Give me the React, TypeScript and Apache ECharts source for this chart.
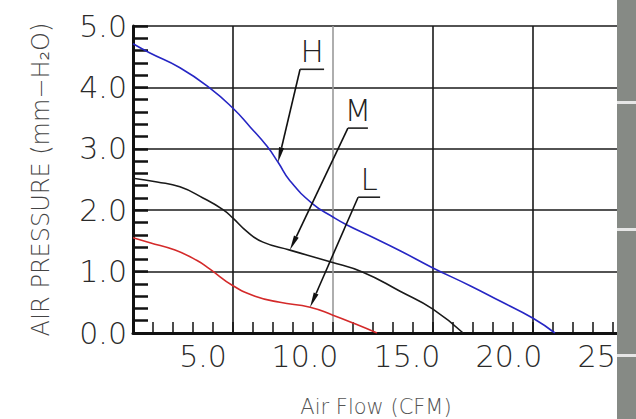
import React, { useEffect, useRef } from "react";
import * as echarts from "echarts";

// Air flow (CFM) / air pressure (mm-H2O) readings of the three fan curves
const H_X = [1.57, 2.4, 3.87, 5.34, 6.47, 7.3, 8.14, 8.68, 9.26, 10.39, 11.37, 12.06, 13.19, 14.66, 16.27, 18.09, 19.56, 21.18, 22.25];
const H_Y = [4.71, 4.56, 4.32, 3.99, 3.66, 3.36, 3.04, 2.78, 2.48, 2.1, 1.89, 1.76, 1.58, 1.34, 1.06, 0.77, 0.52, 0.24, 0];
const M_X = [1.57, 2.75, 3.87, 5.0, 5.98, 6.47, 7.16, 7.94, 9.26, 11.23, 12.84, 14.66, 16.27, 17.75];
const M_Y = [2.52, 2.46, 2.38, 2.2, 2.01, 1.87, 1.65, 1.48, 1.35, 1.16, 0.99, 0.68, 0.39, 0];
const L_X = [1.57, 2.4, 3.63, 4.71, 5.34, 6.47, 7.55, 8.77, 10.25, 11.37, 12.45, 13.53];
const L_Y = [1.55, 1.47, 1.35, 1.18, 1.04, 0.77, 0.6, 0.5, 0.42, 0.29, 0.15, 0];

const X_LABELS = [5, 10, 15, 20, 25];
const SERIES_NAMES = ["H", "M", "L"];

// annotation: which series point the arrow points to, plus leader offsets (layout)
const ANNOTATIONS = [
  { series: 0, index: 7, dx: 22, dy: -93, len: 24 },
  { series: 1, index: 8, dx: 58, dy: -122, len: 20 },
  { series: 2, index: 8, dx: 48, dy: -110, len: 22 },
];

const FONT = "DejaVu Sans";

export default function App() {
  const ref = useRef<HTMLDivElement>(null);
  useEffect(() => {
    const chart = echarts.init(ref.current!, null, { renderer: "svg" });
    const gridLeft = 133;
    const gridTop = 26;
    const gridW = 500;
    const gridH = 307;
    const pxPerCfm = 20.4;
    const xMin = 5 - (203 - gridLeft) / pxPerCfm;
    const xMax = xMin + gridW / pxPerCfm;

    const xs = [H_X, M_X, L_X];
    const ys = [H_Y, M_Y, L_Y];
    const colors = ["#2626c4", "#1a1a1a", "#d42a2a"];

    chart.setOption({
      animation: false,
      backgroundColor: "#ffffff",
      grid: {
        left: gridLeft,
        top: gridTop,
        width: gridW,
        height: gridH,
        containLabel: false,
        outerBoundsMode: "none",
      },
      xAxis: [
        {
          type: "value",
          min: 0,
          max: 25,
          interval: 5,
          position: "bottom",
          axisLine: { show: true, onZero: false, lineStyle: { color: "#111", width: 3 } },
          axisTick: { show: true, inside: true, length: 11, lineStyle: { color: "#111", width: 1.5 } },
          minorTick: { show: true, splitNumber: 5, length: 11, lineStyle: { color: "#111", width: 1.5 } },
          axisLabel: { show: false },
          splitLine: {
            show: true,
            lineStyle: { color: ["#1a1a1a", "#1a1a1a", "#9a9a9a", "#1a1a1a", "#1a1a1a", "#1a1a1a"], width: 1.6 },
          },
        },
        {
          type: "value",
          min: xMin,
          max: xMax,
          position: "bottom",
          axisLine: { show: false },
          axisTick: { show: false },
          splitLine: { show: false },
          axisLabel: {
            customValues: X_LABELS,
            formatter: (v: number) => v.toFixed(1),
            fontFamily: FONT,
            fontWeight: 200,
            fontSize: 30,
            color: "#2a2a2a",
            margin: 8,
          },
          name: "Air Flow (CFM)",
          nameLocation: "middle",
          nameGap: 63,
          nameTextStyle: { fontFamily: FONT, fontWeight: 200, fontSize: 21, color: "#555", padding: [0, 14, 0, 0] },
        },
      ],
      yAxis: {
        type: "value",
        min: 0,
        max: 5,
        interval: 1,
        axisLine: { show: true, lineStyle: { color: "#111", width: 3 } },
        axisTick: { show: true, inside: true, length: 15, lineStyle: { color: "#111", width: 2.5 } },
        minorTick: { show: true, splitNumber: 5, length: 15, lineStyle: { color: "#111", width: 2.5 } },
        splitLine: { show: true, lineStyle: { color: "#1a1a1a", width: 1.6 } },
        axisLabel: {
          formatter: (v: number) => v.toFixed(1),
          fontFamily: FONT,
          fontWeight: 200,
          fontSize: 30,
          color: "#2a2a2a",
          margin: 6,
        },
        name: "AIR PRESSURE (mm\u2212H\u2082O)",
        nameLocation: "middle",
        nameGap: 80,
        nameTextStyle: { fontFamily: FONT, fontWeight: 200, fontSize: 24, color: "#444" },
      },
      series: SERIES_NAMES.map((name, i) => ({
        name,
        type: "line",
        xAxisIndex: 1,
        yAxisIndex: 0,
        data: xs[i].map((x, k) => [x, ys[i][k]]),
        smooth: 0.5,
        showSymbol: false,
        lineStyle: { color: colors[i], width: 1.6 },
        z: 5,
      })),
    });

    const graphics: any[] = [];
    ANNOTATIONS.forEach((a) => {
      const px = chart.convertToPixel({ xAxisIndex: 1, yAxisIndex: 0 } as any, [
        xs[a.series][a.index],
        ys[a.series][a.index],
      ]) as number[];
      const tip = [px[0], px[1]];
      const top = [tip[0] + a.dx, tip[1] + a.dy];
      const vx = tip[0] - top[0];
      const vy = tip[1] - top[1];
      const L = Math.hypot(vx, vy);
      const ux = vx / L;
      const uy = vy / L;
      const nx = -uy;
      const ny = ux;
      const headLen = 15;
      const headW = 2.6;
      const base = [tip[0] - ux * headLen, tip[1] - uy * headLen];
      graphics.push({
        type: "line",
        z: 50,
        shape: { x1: top[0], y1: top[1], x2: base[0], y2: base[1] },
        style: { stroke: "#111", lineWidth: 1.6 },
      });
      graphics.push({
        type: "polygon",
        z: 50,
        shape: {
          points: [
            [tip[0], tip[1]],
            [base[0] + nx * headW, base[1] + ny * headW],
            [base[0] - nx * headW, base[1] - ny * headW],
          ],
        },
        style: { fill: "#111" },
      });
      graphics.push({
        type: "line",
        z: 50,
        shape: { x1: top[0], y1: top[1], x2: top[0] + a.len, y2: top[1] },
        style: { stroke: "#222", lineWidth: 1.6 },
      });
      graphics.push({
        type: "text",
        z: 50,
        style: {
          text: SERIES_NAMES[a.series],
          x: top[0] + a.len / 2,
          y: top[1] - 3,
          align: "center",
          verticalAlign: "bottom",
          fontFamily: FONT,
          fontWeight: 200,
          fontSize: 31,
          fill: "#222",
        },
      });
    });

    // right-hand grey side panel
    const panel = [
      [0, 101],
      [104, 124],
      [231, 123],
      [357, 62],
    ];
    graphics.push({
      type: "rect",
      z: 99,
      shape: { x: 617, y: 0, width: 19, height: 419 },
      style: { fill: "#e6e6e6" },
    });
    panel.forEach(([y, h]) => {
      graphics.push({
        type: "rect",
        z: 100,
        shape: { x: 617, y, width: 19, height: h },
        style: { fill: "#868a85" },
      });
    });

    chart.setOption({ graphic: graphics });

    return () => chart.dispose();
  }, []);
  return <div ref={ref} style={{ position: "absolute", left: 0, top: 0, width: 636, height: 419 }} />;
}
